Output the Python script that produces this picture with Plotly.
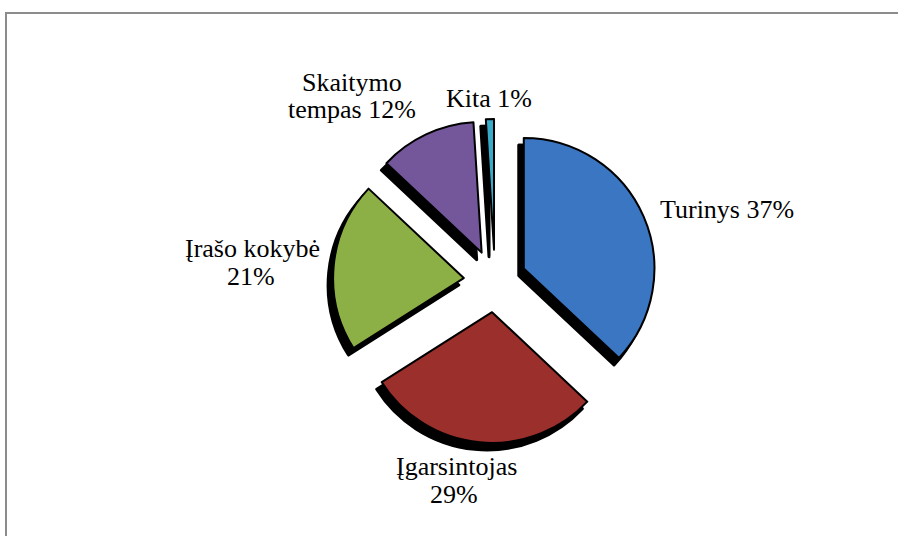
import plotly.graph_objects as go

# slice data, clockwise from 12 o'clock
labels = ["Turinys", "Įgarsintojas", "Įrašo kokybė", "Skaitymo tempas", "Kita"]
values = [37, 29, 21, 12, 1]
colors = ["#3B76C2", "#9B2F2C", "#8DB046", "#74569B", "#3AAAC9"]

# label lines as shown on the chart, with their centre points in pixels
label_lines = ["Skaitymo", "tempas 12%", "Kita 1%", "Įrašo kokybė", "21%",
               "Turinys 37%", "Įgarsintojas", "29%"]
label_pos = [(352, 82), (352, 110), (489, 99), (252, 248), (251, 276),
             (727, 209), (456, 466), (454, 494)]

W, H = 898, 536
pull = 0.24
# pie domain in pixels (left, top, right, bottom)
px_dom = (333, 119, 657, 443)


def dom(dx=0, dy=0):
    l, t, r, b = px_dom
    return dict(x=[(l + dx) / W, (r + dx) / W], y=[1 - (b + dy) / H, 1 - (t + dy) / H])


fig = go.Figure()

# drop shadow
fig.add_trace(go.Pie(
    labels=labels, values=values, sort=False, direction="clockwise", rotation=0,
    pull=[pull] * len(values), domain=dom(-5, 7),
    marker=dict(colors=["#000000"] * len(values), line=dict(color="#000000", width=3)),
    textinfo="none", hoverinfo="skip", showlegend=False,
))

fig.add_trace(go.Pie(
    labels=labels, values=values, sort=False, direction="clockwise", rotation=0,
    pull=[pull] * len(values), domain=dom(),
    marker=dict(colors=colors, line=dict(color="#000000", width=2)),
    textinfo="none", showlegend=False,
))

for txt, (x, y) in zip(label_lines, label_pos):
    fig.add_annotation(
        x=x / W, y=1 - y / H, xref="paper", yref="paper",
        text=txt, showarrow=False, xanchor="center", yanchor="middle",
        font=dict(family="Liberation Serif, Times New Roman, serif", size=26, color="#000000"),
    )

# chart border (only top and left edges are visible in the frame)
fig.add_shape(type="rect", xref="paper", yref="paper",
              x0=6 / W, x1=1.05, y0=-0.05, y1=1 - 13 / H,
              line=dict(color="#8C8C8C", width=2))

fig.update_layout(
    width=W, height=H,
    margin=dict(l=0, r=0, t=0, b=0),
    paper_bgcolor="white", plot_bgcolor="white",
)

fig.write_html("out.html", config={"displayModeBar": False},
               post_script="document.body.style.margin='0';")
